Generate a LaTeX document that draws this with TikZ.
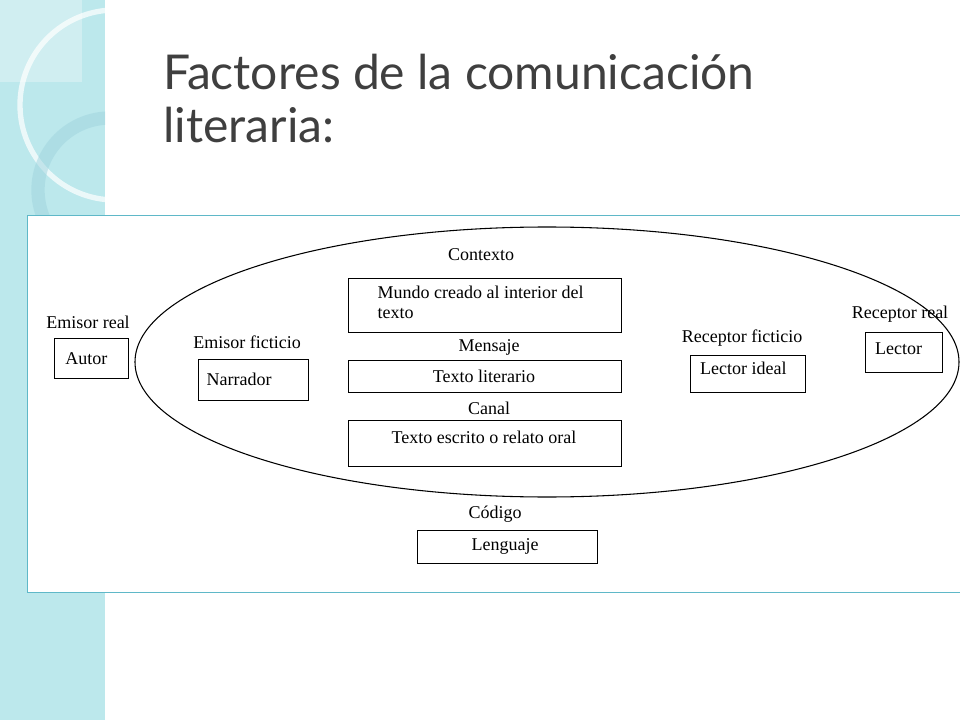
\documentclass[tikz,border=0pt]{standalone}
\usepackage{fontspec}
\setmainfont{Liberation Serif}
\newfontfamily\titlefont{Lato}
\definecolor{bandcyan}{HTML}{BCE8EC}
\definecolor{framecyan}{HTML}{5FB8C8}
\definecolor{titlegray}{HTML}{3F3F3F}
\tikzset{
  lbl/.style={font=\fontsize{13.5}{15}\selectfont}
}
\begin{document}
\begin{tikzpicture}[x=0.75pt, y=-0.75pt, font=\fontsize{13.5}{15}\selectfont]

% page and side band
\useasboundingbox (0,0) rectangle (960,720);
\fill[white] (0,0) rectangle (960,720);
\fill[bandcyan] (0,0) rectangle (105,720);
\begin{scope}
  \clip (0,0) rectangle (105,720);
  \draw[white, line width=4pt, opacity=0.7] (115,105) circle (95);
  \draw[framecyan!60, line width=10pt, opacity=0.5] (110,190) circle (72);
  \fill[white, opacity=0.3] (0,0) rectangle (82,82);
\end{scope}

% title
\node[anchor=base west, text=titlegray, font=\titlefont\fontsize{36}{44}\selectfont, inner sep=0pt] (title) at (163,90) {Factores de la comunicación};
\node[anchor=base west, text=titlegray, font=\titlefont\fontsize{36}{44}\selectfont, inner sep=0pt] (title2) at (163,143) {literaria:};

% picture frame
\draw[framecyan, fill=white] (27,215) rectangle (960,592);
\begin{scope}
  \clip (27,215) rectangle (960,592);
  \draw[line width=0.8pt] (547,362) ellipse (412 and 135);
\end{scope}

% emisor real
\node[lbl] (emreal) at (88,322) {Emisor real};
\node[draw, thin, minimum width=74*0.75pt, minimum height=40*0.75pt, anchor=north west] (autor) at (54,338) {};
\node[anchor=west] at ([xshift=5pt]autor.west) {Autor};

% emisor ficticio
\node[lbl] (emfic) at (247,342) {Emisor ficticio};
\node[draw, thin, minimum width=110*0.75pt, minimum height=41*0.75pt, anchor=north west] (narrador) at (198,359) {};
\node[anchor=west] at ([xshift=3pt]narrador.west) {Narrador};

% contexto
\node[lbl] (contexto) at (481,255) {Contexto};
\node[draw, thin, minimum width=273*0.75pt, minimum height=54*0.75pt, anchor=north west] (mundo) at (348,278) {};
\node[anchor=north west, align=left, inner sep=0pt] at ([xshift=22pt,yshift=-6pt]mundo.north west) {Mundo creado al interior del\\texto};

% mensaje
\node[lbl] (mensaje) at (489,347) {Mensaje};
\node[draw, thin, minimum width=273*0.75pt, minimum height=32*0.75pt, anchor=north west] (literario) at (348,360) {};
\node at (484,376) {Texto literario};

% canal
\node[lbl] (canal) at (489,408) {Canal};
\node[draw, thin, minimum width=273*0.75pt, minimum height=46*0.75pt, anchor=north west] (escrito) at (348,420) {};
\node at (484,437) {Texto escrito o relato oral};

% receptor ficticio
\node[lbl] (recfic) at (742,338) {Receptor ficticio};
\node[draw, thin, minimum width=115*0.75pt, minimum height=37*0.75pt, anchor=north west] (ideal) at (690,355) {};
\node[anchor=west] at ([xshift=4pt,yshift=4pt]ideal.west) {Lector ideal};

% receptor real
\node[lbl] (recreal) at (900,314) {Receptor real};
\node[draw, thin, minimum width=77*0.75pt, minimum height=40*0.75pt, anchor=north west] (lector) at (865,332) {};
\node[anchor=west] at ([xshift=4pt,yshift=3pt]lector.west) {Lector};

% codigo
\node[lbl] (codigo) at (495,514) {Código};
\node[draw, thin, minimum width=180*0.75pt, minimum height=33*0.75pt, anchor=north west] (lenguaje) at (417,530) {};
\node at (505,546) {Lenguaje};

\end{tikzpicture}
\end{document}
